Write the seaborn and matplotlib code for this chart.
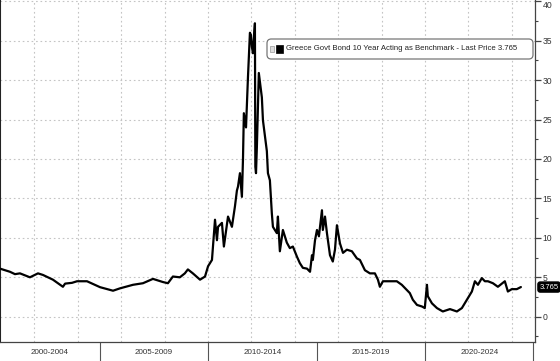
import numpy as np
import pandas as pd
import seaborn as sns
import matplotlib.pyplot as plt
from matplotlib.patches import FancyBboxPatch, Rectangle

# ---- data (decimal year, yield %) ----
years = [2000.41, 2000.87, 2001.10, 2001.33, 2001.79, 2002.16, 2002.39, 2002.85, 2003.31, 2003.41,
         2003.73, 2003.96, 2004.42, 2005.02, 2005.62, 2005.94, 2006.54, 2007.00, 2007.46, 2007.92,
         2008.15, 2008.38, 2008.70, 2008.93, 2009.07, 2009.30, 2009.63, 2009.86, 2010.00, 2010.18,
         2010.32, 2010.41, 2010.46, 2010.64, 2010.73, 2010.92, 2011.10, 2011.24, 2011.33, 2011.38,
         2011.47, 2011.56, 2011.61, 2011.65, 2011.75, 2011.84, 2011.93, 2011.98, 2012.02, 2012.07,
         2012.16, 2012.18, 2012.21, 2012.25, 2012.34, 2012.48, 2012.53, 2012.71, 2012.76, 2012.85,
         2012.94, 2012.99, 2013.17, 2013.22, 2013.31, 2013.45, 2013.63, 2013.77, 2013.91, 2014.10,
         2014.23, 2014.37, 2014.56, 2014.70, 2014.79, 2014.83, 2014.93, 2015.02, 2015.11, 2015.25,
         2015.29, 2015.39, 2015.48, 2015.62, 2015.75, 2015.85, 2015.94, 2016.08, 2016.22, 2016.40,
         2016.63, 2016.86, 2017.00, 2017.23, 2017.46, 2017.69, 2017.83, 2017.92, 2018.06, 2018.38,
         2018.70, 2018.93, 2019.16, 2019.30, 2019.44, 2019.63, 2019.86, 2019.99, 2020.09, 2020.13,
         2020.32, 2020.55, 2020.82, 2021.15, 2021.47, 2021.70, 2021.93, 2022.16, 2022.30, 2022.44,
         2022.62, 2022.76, 2022.90, 2023.13, 2023.36, 2023.68, 2023.82, 2024.00, 2024.23, 2024.42]
yields = [6.1, 5.7, 5.4, 5.5, 5.0, 5.5, 5.3, 4.7, 3.8, 4.2,
          4.3, 4.5, 4.5, 3.75, 3.3, 3.6, 4.05, 4.25, 4.8, 4.4,
          4.25, 5.1, 5.0, 5.5, 6.0, 5.5, 4.7, 5.1, 6.4, 7.2,
          12.3, 9.7, 11.4, 11.9, 8.9, 12.7, 11.4, 14.0, 16.0, 16.5,
          18.2, 15.2, 20.0, 25.8, 24.0, 30.4, 36.0, 35.7, 34.2, 33.4,
          37.2, 19.0, 18.2, 21.5, 30.9, 27.8, 24.9, 21.0, 18.2, 17.3,
          13.1, 11.4, 10.6, 12.7, 8.3, 11.0, 9.4, 8.7, 8.9, 7.6,
          6.8, 6.2, 6.1, 5.7, 7.8, 7.2, 9.7, 11.0, 10.2, 13.5,
          11.0, 12.7, 10.6, 7.8, 7.0, 8.5, 11.6, 9.3, 8.1, 8.5,
          8.3, 7.4, 7.2, 5.9, 5.5, 5.5, 4.7, 3.8, 4.5, 4.5,
          4.5, 4.05, 3.4, 3.0, 2.15, 1.5, 1.3, 1.1, 4.05, 2.6,
          1.7, 1.1, 0.67, 0.97, 0.67, 1.1, 2.15, 3.2, 4.5, 4.05,
          4.9, 4.5, 4.5, 4.25, 3.8, 4.5, 3.2, 3.5, 3.5, 3.765]

series_name = "Greece Govt Bond 10 Year Acting as Benchmark - Last Price 3.765"
last_price = 3.765
period_labels = ["2000-2004", "2005-2009", "2010-2014", "2015-2019", "2020-2024"]
period_bounds = [2000, 2005, 2010, 2015, 2020, 2025]
y_ticks = [0, 5, 10, 15, 20, 25, 30, 35, 40]
x_grid = [2002, 2004, 2006, 2008, 2010, 2012, 2014, 2016, 2018, 2020, 2022, 2024]

df = pd.DataFrame({"year": years, "yield": yields})

sns.set_style("white")
plt.rcParams['font.family'] = ['Liberation Sans', 'DejaVu Sans']

W, H = 560, 361
fig = plt.figure(figsize=(W / 100, H / 100), dpi=100)
ax = fig.add_axes([0, 19 / H, 535 / W, 342 / H])

xmin, xmax = 2000.41, 2025.07
ax.set_xlim(xmin, xmax)
ax.set_ylim(-3.2, 40.15)

# grid
for gy in y_ticks:
    ax.axhline(gy, color='#c4c4c4', lw=0.8, ls=(0, (1.5, 2.5)), zorder=0)
for gx in x_grid:
    ax.axvline(gx, color='#c4c4c4', lw=0.8, ls=(0, (1.5, 2.5)), zorder=0)

sns.lineplot(data=df, x="year", y="yield", color='black', lw=1.6, ax=ax,
             sort=False, estimator=None, legend=False, zorder=3)
ax.set_xlabel("")
ax.set_ylabel("")

# spines
ax.spines['top'].set_visible(False)
ax.spines['left'].set_color('#222222')
ax.spines['left'].set_linewidth(1.5)
ax.spines['right'].set_color('#444444')
ax.spines['right'].set_linewidth(0.9)
ax.spines['bottom'].set_color('#444444')
ax.spines['bottom'].set_linewidth(0.9)

# y axis on right
ax.yaxis.tick_right()
ax.set_yticks(y_ticks)
ax.set_yticklabels([str(v) for v in y_ticks])
ax.set_yticks(np.arange(-2.5, 40, 5), minor=True)
ax.tick_params(axis='y', which='major', direction='out', length=4, width=0.9,
               color='#444444', labelsize=6.2, labelcolor='#333333', pad=1.5, left=False)
ax.tick_params(axis='y', which='minor', direction='out', length=2.5, width=0.8,
               color='#444444', left=False)
# keep the top label ("40") inside the picture
top_label = ax.get_yticklabels()[-1]
top_label.set_va('top')

# x axis: yearly ticks, no labels
ax.set_xticks(np.arange(2001, 2026, 1))
ax.set_xticklabels([])
ax.tick_params(axis='x', which='major', direction='out', length=2.5, width=0.8,
               color='#555555')

# period band below
tr = ax.get_xaxis_transform()
band = 19 / 342
for b in period_bounds[1:]:
    ax.plot([b, b], [0, -band], transform=tr, color='#555555', lw=0.8, clip_on=False)
for i, lab in enumerate(period_labels):
    lo = max(period_bounds[i], xmin)
    hi = period_bounds[i + 1]
    ax.text((lo + hi) / 2, -10.5 / 342, lab, transform=tr, ha='center', va='center',
            fontsize=5.8, color='#333333', clip_on=False)

# legend box
ax.add_patch(FancyBboxPatch((267 / 535, 1 - 59 / 342), 266 / 535, 20 / 342,
                            boxstyle="round,pad=0,rounding_size=0.008",
                            transform=ax.transAxes, fc='white', ec='#777777', lw=0.9,
                            zorder=5, mutation_aspect=535 / 342))
ax.add_patch(Rectangle((270 / 535, 1 - 52 / 342), 4 / 535, 6 / 342, transform=ax.transAxes,
                       fc='#dddddd', ec='#999999', lw=0.5, zorder=6))
ax.add_patch(Rectangle((276 / 535, 1 - 53 / 342), 7 / 535, 8 / 342, transform=ax.transAxes,
                       fc='black', ec='black', lw=0.5, zorder=6))
ax.text(286 / 535, 1 - 49 / 342, series_name, transform=ax.transAxes, ha='left', va='center',
        fontsize=5.6, color='#222222', zorder=6)

# last price tag
ax.annotate(f"{last_price:.3f}", xy=(1.0, last_price), xycoords=('axes fraction', 'data'),
            xytext=(3.2, 0), textcoords='offset points', ha='left', va='center',
            fontsize=5.5, color='white', annotation_clip=False, zorder=7,
            bbox=dict(boxstyle='round,pad=0.2,rounding_size=0.3', fc='black', ec='black'))

fig.savefig("out.png", dpi=100)
